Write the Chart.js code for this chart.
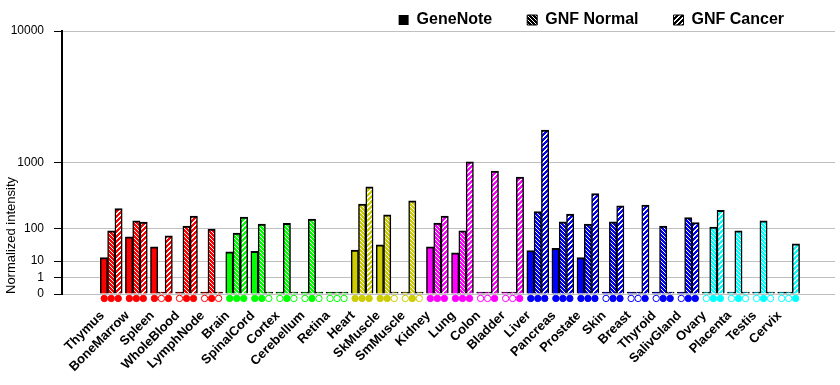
<!DOCTYPE html>
<html>
<head>
<meta charset="utf-8">
<script src="https://cdn.jsdelivr.net/npm/chart.js@4.4.1/dist/chart.umd.min.js"></script>
<style>
  html, body { margin: 0; padding: 0; background: #fff; }
  #chart { display: block; }
</style>
</head>
<body>
<canvas id="chart" width="840" height="385"></canvas>
<script>
// tissues, in plot order
const tissues = ['Thymus', 'BoneMarrow', 'Spleen', 'WholeBlood', 'LymphNode', 'Brain', 'SpinalCord',
    'Cortex', 'Cerebellum', 'Retina', 'Heart', 'SkMuscle', 'SmMuscle', 'Kidney', 'Lung', 'Colon',
    'Bladder', 'Liver', 'Pancreas', 'Prostate', 'Skin', 'Breast', 'Thyroid', 'SalivGland', 'Ovary',
    'Placenta', 'Testis', 'Cervix'];

const tissueColors = ['#ff0000', '#ff0000', '#ff0000', '#ff0000', '#ff0000',
    '#00ff00', '#00ff00', '#00ff00', '#00ff00', '#00ff00',
    '#cccc00', '#cccc00', '#cccc00',
    '#ff00ff', '#ff00ff', '#ff00ff', '#ff00ff',
    '#0000ff', '#0000ff', '#0000ff', '#0000ff', '#0000ff', '#0000ff', '#0000ff',
    '#00ffff', '#00ffff', '#00ffff', '#00ffff'];

// normalized intensities
const geneNote  = [14, 63, 33, 0, 0, 23, 24, 0, 0, 0, 26, 38, 0, 33, 21, 0, 0, 25, 30, 14, 0, 0, 0, 0, 0, 0, 0, 0];
const gnfNormal = [88, 143, 0, 112, 96, 78, 123, 127, 155, 0, 283, 186, 319, 129, 88, 0, 0, 211, 137, 123, 137, 0, 112, 164, 106, 88, 143, 0];
const gnfCancer = [238, 135, 67, 176, 0, 169, 0, 0, 0, 0, 508, 0, 0, 176, 1020, 801, 678, 2083, 192, 407, 266, 273, 0, 131, 223, 0, 0, 41];

// present (1) / absent (0) calls shown as dots under the bars
const geneNoteCall  = [1, 1, 1, 0, 0, 1, 1, 0, 0, 0, 1, 1, 0, 1, 1, 0, 0, 1, 1, 1, 0, 0, 0, 0, 0, 0, 0, 0];
const gnfNormalCall = [1, 1, 0, 1, 1, 1, 1, 1, 1, 0, 1, 1, 1, 1, 1, 0, 0, 1, 1, 1, 1, 0, 1, 1, 1, 1, 1, 0];
const gnfCancerCall = [1, 1, 1, 1, 0, 1, 0, 0, 0, 0, 1, 0, 0, 1, 1, 1, 1, 1, 1, 1, 1, 1, 1, 1, 1, 0, 0, 1];

const yTickValues = [0, 1, 10, 100, 1000, 10000];
const yTickLabels = ['0', '1', '10', '100', '1000', '10000'];

// each decade gets twice the height of the one below: y ~ v^log10(2)
const tf = v => v <= 0 ? 0 : Math.pow(v, Math.log10(2));

const X_MIN = -1.413, X_MAX = 28.298;
const BAR_PX = 7.3;
const PX_PER_UNIT = 778 / (X_MAX - X_MIN);
const DOT_Y = -0.27;

const canvas = document.getElementById('chart');
const ctx = canvas.getContext('2d');

function hatch(color, kind) {
    const n = kind === 'normal' ? 4 : 5;
    const tile = document.createElement('canvas');
    tile.width = n; tile.height = n;
    const g = tile.getContext('2d');
    g.fillStyle = color;
    g.fillRect(0, 0, n, n);
    g.fillStyle = '#ffffff';
    for (let y = 0; y < n; y++) {
        if (kind === 'normal') {
            g.fillRect(y, y, 1, 1);
        } else {
            const x0 = n - 1 - y;
            g.fillRect(x0, y, 1, 1);
            g.fillRect((x0 + 1) % n, y, 1, 1);
        }
    }
    return ctx.createPattern(tile, 'repeat');
}

const barStyle = {
    borderColor: '#000000',
    borderWidth: { top: 2, left: 1.5, right: 1.5, bottom: 0 },
    borderSkipped: false,
    barThickness: BAR_PX,
    minBarLength: 2,
    order: 2
};

function barSet(label, values, bg) {
    return Object.assign({
        type: 'bar',
        label: label,
        data: values.map((v, i) => ({ x: i, y: tf(v) })),
        backgroundColor: bg
    }, barStyle);
}

function dotSet(calls, slot) {
    return {
        type: 'line',
        label: 'calls' + slot,
        data: calls.map((c, i) => ({ x: i + slot * BAR_PX / PX_PER_UNIT, y: DOT_Y })),
        showLine: false,
        pointStyle: 'circle',
        pointRadius: 3.2,
        pointBorderWidth: 1,
        pointBorderColor: tissueColors,
        pointBackgroundColor: calls.map((c, i) => c ? tissueColors[i] : '#ffffff'),
        clip: false,
        order: 1
    };
}

Chart.defaults.font.family = "'Liberation Sans', Arial, sans-serif";
Chart.defaults.color = '#000000';

// legend sits higher and further left than Chart.js would put it
const legendNudge = {
    id: 'legendNudge',
    afterLayout(chart) {
        if (!chart.legend) return;
        chart.legend.top -= 23;
        chart.legend.right -= 21;
    }
};

new Chart(canvas, {
    data: {
        datasets: [
            barSet('GeneNote', geneNote, tissueColors),
            barSet('GNF Normal', gnfNormal, tissueColors.map(c => hatch(c, 'normal'))),
            barSet('GNF Cancer', gnfCancer, tissueColors.map(c => hatch(c, 'cancer'))),
            dotSet(geneNoteCall, -1),
            dotSet(gnfNormalCall, 0),
            dotSet(gnfCancerCall, 1)
        ]
    },
    plugins: [legendNudge],
    options: {
        responsive: false,
        animation: false,
        devicePixelRatio: 1,
        layout: { padding: 0 },
        scales: {
            x: {
                type: 'linear',
                min: X_MIN,
                max: X_MAX,
                afterBuildTicks: scale => { scale.ticks = tissues.map((t, i) => ({ value: i })); },
                afterFit: scale => { scale.height = 91; },
                grid: { display: false, drawTicks: false },
                border: { display: false },
                ticks: {
                    autoSkip: false,
                    minRotation: 45,
                    maxRotation: 45,
                    padding: 14,
                    labelOffset: -9,
                    color: '#000000',
                    font: { size: 13, weight: 'bold' },
                    callback: (v, idx) => tissues[idx]
                }
            },
            y: {
                type: 'linear',
                min: 0,
                max: tf(10000),
                afterBuildTicks: scale => { scale.ticks = yTickValues.map(v => ({ value: tf(v) })); },
                afterFit: scale => { scale.width = 62; },
                grid: { color: '#c0c0c0', lineWidth: 1, tickColor: '#000000', tickLength: 8 },
                border: { display: true, color: '#000000', width: 2 },
                ticks: {
                    padding: 10,
                    color: '#000000',
                    font: { size: 12 },
                    callback: (v, idx) => yTickLabels[idx]
                },
                title: {
                    display: true,
                    text: 'Normalized intensity',
                    align: 'start',
                    color: '#000000',
                    font: { size: 13 }
                }
            }
        },
        plugins: {
            tooltip: { enabled: false },
            legend: {
                position: 'top',
                align: 'end',
                maxHeight: 31,
                labels: {
                    boxWidth: 10,
                    boxHeight: 10,
                    padding: 35,
                    color: '#000000',
                    font: { size: 16, weight: 'bold' },
                    generateLabels: () => [
                        { text: 'GeneNote', fillStyle: '#000000', strokeStyle: '#000000', lineWidth: 0, datasetIndex: 0 },
                        { text: 'GNF Normal', fillStyle: hatch('#000000', 'normal'), strokeStyle: '#000000', lineWidth: 1, datasetIndex: 1 },
                        { text: 'GNF Cancer', fillStyle: hatch('#000000', 'cancer'), strokeStyle: '#000000', lineWidth: 1, datasetIndex: 2 }
                    ]
                }
            }
        }
    }
});
</script>
</body>
</html>
